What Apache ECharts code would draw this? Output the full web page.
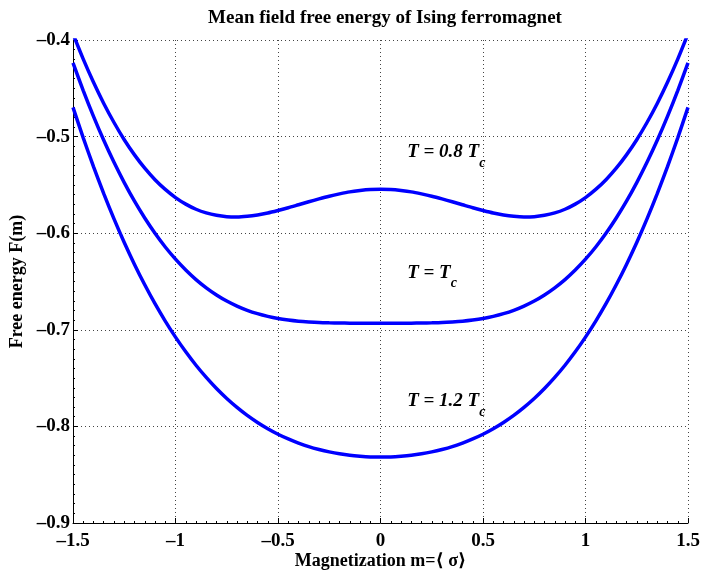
<!DOCTYPE html>
<html>
<head>
<meta charset="utf-8">
<script src="https://cdn.jsdelivr.net/npm/echarts@6/dist/echarts.min.js"></script>
<style>html,body{margin:0;padding:0;background:#fff}#c{width:701px;height:570px}</style>
</head>
<body>
<div id="c"></div>
<script>
// Magnetization m
var mValues = [-1.5,-1.45,-1.4,-1.35,-1.3,-1.25,-1.2,-1.15,-1.1,-1.05,-1.0,-0.95,-0.9,-0.85,-0.8,-0.75,-0.7,-0.65,-0.6,-0.55,
               -0.5,-0.45,-0.4,-0.35,-0.3,-0.25,-0.2,-0.15,-0.1,-0.05,0,
               0.05,0.1,0.15,0.2,0.25,0.3,0.35,0.4,0.45,0.5,0.55,0.6,0.65,0.7,0.75,0.8,0.85,0.9,0.95,
               1.0,1.05,1.1,1.15,1.2,1.25,1.3,1.35,1.4,1.45,1.5];
// Free energy, T = 0.8 Tc
var fT08 = [-0.3936,-0.4198,-0.4438,-0.4657,-0.4854,-0.5032,-0.5189,-0.5327,-0.5446,-0.5547,-0.5631,-0.5699,-0.5752,-0.5790,-0.5815,
            -0.5829,-0.5832,-0.5825,-0.5811,-0.5791,-0.5765,-0.5737,-0.5706,-0.5675,-0.5645,-0.5617,-0.5593,-0.5572,-0.5558,-0.5548,
            -0.5545,
            -0.5548,-0.5558,-0.5572,-0.5593,-0.5617,-0.5645,-0.5675,-0.5706,-0.5737,-0.5765,-0.5791,-0.5811,-0.5825,-0.5832,-0.5829,
            -0.5815,-0.5790,-0.5752,-0.5699,-0.5631,-0.5547,-0.5446,-0.5327,-0.5189,-0.5032,-0.4854,-0.4657,-0.4438,-0.4198,-0.3936];
// T = Tc
var fT10 = [-0.4236,-0.4523,-0.4790,-0.5038,-0.5266,-0.5476,-0.5669,-0.5843,-0.6001,-0.6143,-0.6269,-0.6381,-0.6480,-0.6565,-0.6639,
            -0.6702,-0.6754,-0.6798,-0.6833,-0.6861,-0.6883,-0.6899,-0.6911,-0.6919,-0.6925,-0.6928,-0.6930,-0.6931,-0.6931,-0.6931,
            -0.6931,
            -0.6931,-0.6931,-0.6931,-0.6930,-0.6928,-0.6925,-0.6919,-0.6911,-0.6899,-0.6883,-0.6861,-0.6833,-0.6798,-0.6754,-0.6702,
            -0.6639,-0.6565,-0.6480,-0.6381,-0.6269,-0.6143,-0.6001,-0.5843,-0.5669,-0.5476,-0.5266,-0.5038,-0.4790,-0.4523,-0.4236];
// T = 1.2 Tc
var fT12 = [-0.4697,-0.5013,-0.5311,-0.5590,-0.5852,-0.6096,-0.6323,-0.6534,-0.6730,-0.6910,-0.7076,-0.7228,-0.7367,-0.7493,-0.7608,
            -0.7711,-0.7803,-0.7886,-0.7959,-0.8024,-0.8081,-0.8130,-0.8172,-0.8209,-0.8239,-0.8264,-0.8284,-0.8299,-0.8309,-0.8316,
            -0.8318,
            -0.8316,-0.8309,-0.8299,-0.8284,-0.8264,-0.8239,-0.8209,-0.8172,-0.8130,-0.8081,-0.8024,-0.7959,-0.7886,-0.7803,-0.7711,
            -0.7608,-0.7493,-0.7367,-0.7228,-0.7076,-0.6910,-0.6730,-0.6534,-0.6323,-0.6096,-0.5852,-0.5590,-0.5311,-0.5013,-0.4697];
var xTicks = [-1.5,-1,-0.5,0,0.5,1,1.5];
var yTicks = [-0.9,-0.8,-0.7,-0.6,-0.5,-0.4];
var labelTexts = ['T = 0.8 T','T = T','T = 1.2 T'];
var labelPos = [[0.13,-0.516],[0.13,-0.641],[0.13,-0.774]];

var serif = '"Liberation Serif","DejaVu Serif",serif';
function fmt(v){ var s = String(+v.toFixed(2)); return s.replace('-', '\u2013'); }
function pairs(ys){ return mValues.map(function(x,i){ return [x, ys[i]]; }); }
function mk(i){
  return {
    symbol:'circle', symbolSize:0, silent:true,
    data:[{coord:labelPos[i], value:0}],
    label:{show:true, position:'right', distance:0,
      formatter:'{a|'+labelTexts[i]+'}{s|c}',
      rich:{
        a:{fontFamily:serif, fontStyle:'italic', fontWeight:'bold', fontSize:19, color:'#000'},
        s:{fontFamily:serif, fontStyle:'italic', fontWeight:'bold', fontSize:14, color:'#000', padding:[22,0,0,0]}
      }}
  };
}
var seriesData = [fT08, fT10, fT12];
var chart = echarts.init(document.getElementById('c'), null, {renderer:'canvas'});
chart.setOption({
  animation:false,
  backgroundColor:'#fff',
  title:{text:'Mean field free energy of Ising ferromagnet', left:380, top:4, textAlign:'center',
    textStyle:{fontFamily:serif, fontWeight:'bold', fontSize:19, color:'#000'}},
  grid:{left:73, right:13, top:40, bottom:47, containLabel:false, outerBoundsMode:'none'},
  xAxis:{type:'value', min:xTicks[0], max:xTicks[xTicks.length-1], interval:0.5,
    name:'Magnetization m=\u27E8 \u03C3\u27E9', nameLocation:'middle', nameGap:29, nameMoveOverlap:false,
    nameTextStyle:{fontFamily:serif, fontWeight:'bold', fontSize:18, color:'#000'},
    axisLine:{show:true, onZero:false, lineStyle:{color:'#000', width:1}},
    axisTick:{show:true, inside:true, length:5, lineStyle:{color:'#000'}},
    minorTick:{show:true, splitNumber:10, length:2, lineStyle:{color:'#000'}},
    axisLabel:{formatter:fmt, fontFamily:serif, fontWeight:'bold', fontSize:19, color:'#000', margin:9},
    splitLine:{show:true, lineStyle:{color:'#444', width:1, type:[1,3]}}
  },
  yAxis:{type:'value', min:yTicks[0], max:yTicks[yTicks.length-1], interval:0.1,
    name:'Free energy F(m)', nameLocation:'middle', nameGap:47, nameMoveOverlap:false,
    nameTextStyle:{fontFamily:serif, fontWeight:'bold', fontSize:18, color:'#000'},
    axisLine:{show:true, onZero:false, lineStyle:{color:'#000', width:1}},
    axisTick:{show:true, inside:true, length:5, lineStyle:{color:'#000'}},
    minorTick:{show:true, splitNumber:10, length:2, lineStyle:{color:'#000'}},
    axisLabel:{formatter:fmt, fontFamily:serif, fontWeight:'bold', fontSize:19, color:'#000', margin:3},
    splitLine:{show:true, lineStyle:{color:'#444', width:1, type:[1,3]}}
  },
  series: seriesData.map(function(d,i){
    return {type:'line', data:pairs(d), smooth:0.25, showSymbol:false, symbol:'none', clip:true,
      lineStyle:{color:'#0000ff', width:3.5}, itemStyle:{color:'#0000ff'}, markPoint:mk(i), z:3};
  })
});
</script>
</body>
</html>
